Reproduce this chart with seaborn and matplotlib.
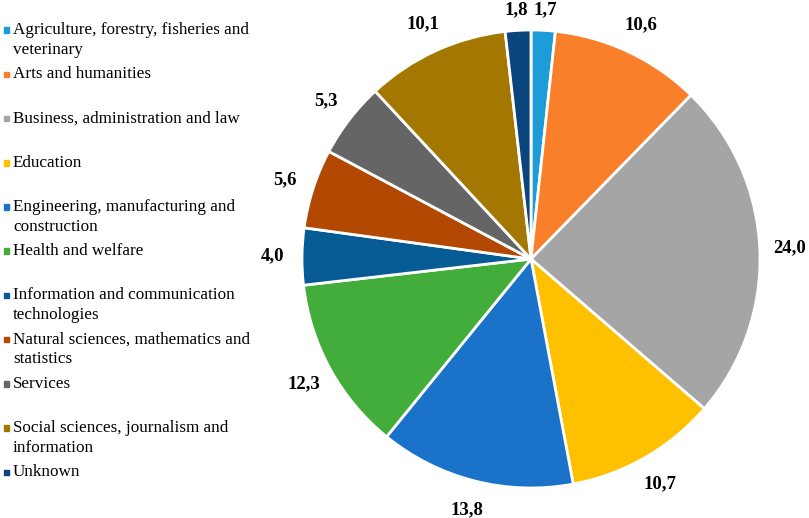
import matplotlib
matplotlib.use("Agg")
import matplotlib.pyplot as plt
import numpy as np
import seaborn as sns

categories = [
    "Agriculture, forestry, fisheries and\nveterinary",
    "Arts and humanities",
    "Business, administration and law",
    "Education",
    "Engineering, manufacturing and\nconstruction",
    "Health and welfare",
    "Information and communication\ntechnologies",
    "Natural sciences, mathematics and\nstatistics",
    "Services",
    "Social sciences, journalism and\ninformation",
    "Unknown",
]
shares = [1.7, 10.6, 24.0, 10.7, 13.8, 12.3, 4.0, 5.6, 5.3, 10.1, 1.8]
value_labels = ["1,7", "10,6", "24,0", "10,7", "13,8", "12,3", "4,0", "5,6", "5,3", "10,1", "1,8"]
colors = [
    "#1E9CD7", "#FA7F2A", "#A5A5A5", "#FFC000", "#1B72C9", "#43AD3C",
    "#065B94", "#B34803", "#656565", "#A47800", "#0B457E",
]

sns.set_theme(style="white")
plt.rcParams["font.family"] = ["Liberation Serif", "DejaVu Serif"]

W, H = 809, 518
fig = plt.figure(figsize=(W / 100, H / 100), dpi=100)

# pie centred at (531, 259) px with radius 229 px
cx, cy, r = 531, 259, 229
ax = fig.add_axes([(cx - r) / W, (H - cy - r) / H, 2 * r / W, 2 * r / H])
wedges, texts = ax.pie(
    shares,
    labels=value_labels,
    colors=colors,
    startangle=90,
    counterclock=False,
    labeldistance=1.13,
    wedgeprops=dict(edgecolor="white", linewidth=2),
    textprops=dict(fontsize=13.5, fontweight="bold", color="black"),
)
ax.set_xlim(-1, 1)
ax.set_ylim(-1, 1)
ax.set_aspect("equal")
ax.axis("off")

# centre the labels and keep the top ones inside the figure
ymax = (cy - 10) / r
for t in texts:
    t.set_ha("center")
    t.set_va("center")
    x, y = t.get_position()
    t.set_position((x, min(y, ymax)))

# legend drawn on the left, one slot per category
y0, step, line_gap = 30, 44.2, 20
for i, (lab, col) in enumerate(zip(categories, colors)):
    y = y0 + step * i
    fig.patches.append(plt.Rectangle((3.5 / W, (H - y - 3) / H), 5.5 / W, 5.5 / H,
                                     transform=fig.transFigure, color=col))
    for j, line in enumerate(lab.split("\n")):
        fig.text(13 / W, (H - y - line_gap * j) / H, line, fontsize=12.3,
                 va="center", ha="left", color="black")

fig.savefig("out.png", dpi=100)
